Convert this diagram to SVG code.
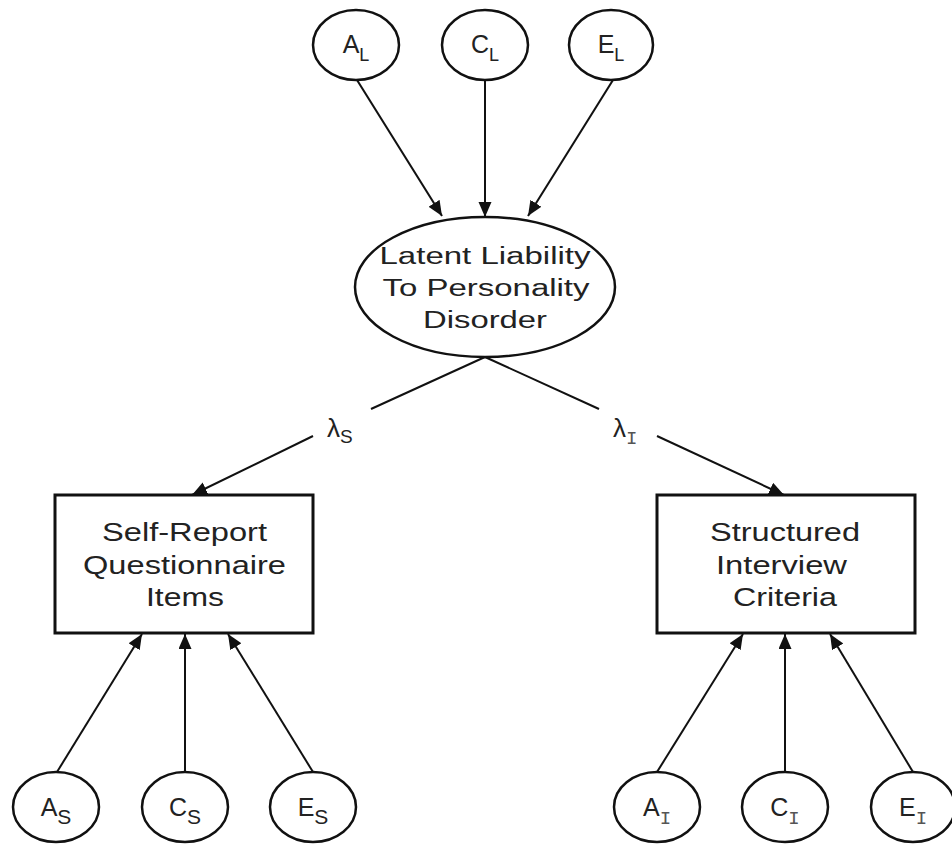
<svg xmlns="http://www.w3.org/2000/svg" width="952" height="844" viewBox="0 0 952 844">
<style>
.node{fill:#fff;stroke:#111;stroke-width:2.5}
.box{fill:#fff;stroke:#111;stroke-width:3}
.t{font-family:"Liberation Sans",Arial,sans-serif;fill:#222}
.big{font-size:23.5px}
.bx{font-size:25px}
.lab{font-size:25px}
.sub{font-size:19px}
.mono{font-family:"Liberation Mono","Courier New",monospace;fill:#555;font-size:19px}
.edge{stroke:#111;stroke-width:2;fill:none}
</style>
<defs>
<marker id="arr" markerUnits="userSpaceOnUse" markerWidth="16" markerHeight="14" refX="15" refY="6.5" orient="auto">
<path d="M0,0 L15,6.5 L0,13 z" fill="#111"/>
</marker>
</defs>
<rect width="952" height="844" fill="#fff"/>
<g id="connectors">
<line class="edge" x1="357" y1="80" x2="442" y2="216" marker-end="url(#arr)"/>
<line class="edge" x1="485" y1="80" x2="485" y2="217" marker-end="url(#arr)"/>
<line class="edge" x1="613" y1="80" x2="528" y2="216" marker-end="url(#arr)"/>
<line class="edge" x1="485" y1="357" x2="371" y2="409"/>
<line class="edge" x1="313" y1="436" x2="192" y2="495" marker-end="url(#arr)"/>
<line class="edge" x1="485" y1="357" x2="599" y2="409"/>
<line class="edge" x1="657" y1="436" x2="784" y2="495" marker-end="url(#arr)"/>
<line class="edge" x1="57" y1="772" x2="142" y2="634" marker-end="url(#arr)"/>
<line class="edge" x1="185" y1="772" x2="185" y2="634" marker-end="url(#arr)"/>
<line class="edge" x1="313" y1="772" x2="228" y2="634" marker-end="url(#arr)"/>
<line class="edge" x1="657" y1="772" x2="743" y2="634" marker-end="url(#arr)"/>
<line class="edge" x1="785" y1="772" x2="785" y2="634" marker-end="url(#arr)"/>
<line class="edge" x1="913" y1="772" x2="830" y2="634" marker-end="url(#arr)"/>
<text class="t" x="327" y="437" font-size="26">λ<tspan class="sub" dy="6">S</tspan></text>
<text class="t" x="613" y="437" font-size="26">λ<tspan class="mono" font-size="17" dy="7">I</tspan></text>
</g>
<g id="AL"><ellipse class="node" cx="356" cy="45" rx="43" ry="35"/><text class="t lab" x="356" y="53" text-anchor="middle">A<tspan font-size="18" dy="8">L</tspan></text></g>
<g id="CL"><ellipse class="node" cx="485" cy="45" rx="43" ry="35"/><text class="t lab" x="485" y="53" text-anchor="middle">C<tspan font-size="18" dy="8">L</tspan></text></g>
<g id="EL"><ellipse class="node" cx="611" cy="45" rx="42" ry="35"/><text class="t lab" x="611" y="53" text-anchor="middle">E<tspan font-size="18" dy="8">L</tspan></text></g>
<g id="latent">
<ellipse class="node" cx="485" cy="287" rx="130" ry="70"/>
<text class="t big" x="485" y="264" text-anchor="middle" textLength="211" lengthAdjust="spacingAndGlyphs">Latent Liability</text>
<text class="t big" x="486" y="296" text-anchor="middle" textLength="207" lengthAdjust="spacingAndGlyphs">To Personality</text>
<text class="t big" x="485" y="328" text-anchor="middle" textLength="124" lengthAdjust="spacingAndGlyphs">Disorder</text>
</g>
<g id="selfreport">
<rect class="box" x="55" y="495" width="258" height="138"/>
<text class="t bx" x="184.5" y="541" text-anchor="middle" textLength="165" lengthAdjust="spacingAndGlyphs">Self-Report</text>
<text class="t bx" x="184.5" y="574" text-anchor="middle" textLength="203" lengthAdjust="spacingAndGlyphs">Questionnaire</text>
<text class="t bx" x="185" y="606" text-anchor="middle" textLength="78" lengthAdjust="spacingAndGlyphs">Items</text>
</g>
<g id="interview">
<rect class="box" x="657" y="495" width="258" height="138"/>
<text class="t bx" x="785" y="541" text-anchor="middle" textLength="150" lengthAdjust="spacingAndGlyphs">Structured</text>
<text class="t bx" x="781.5" y="574" text-anchor="middle" textLength="131" lengthAdjust="spacingAndGlyphs">Interview</text>
<text class="t bx" x="785" y="606" text-anchor="middle" textLength="104" lengthAdjust="spacingAndGlyphs">Criteria</text>
</g>
<g id="AS"><ellipse class="node" cx="56" cy="807" rx="43" ry="35"/><text class="t lab" x="56" y="816" text-anchor="middle">A<tspan font-size="21" dy="8">S</tspan></text></g>
<g id="CS"><ellipse class="node" cx="185" cy="807" rx="43" ry="35"/><text class="t lab" x="185" y="816" text-anchor="middle">C<tspan font-size="21" dy="8">S</tspan></text></g>
<g id="ES"><ellipse class="node" cx="313" cy="807" rx="43" ry="35"/><text class="t lab" x="313" y="816" text-anchor="middle">E<tspan font-size="21" dy="8">S</tspan></text></g>
<g id="AI"><ellipse class="node" cx="657" cy="807" rx="43" ry="35"/><text class="t lab" x="657" y="816" text-anchor="middle">A<tspan class="mono" dy="8">I</tspan></text></g>
<g id="CI"><ellipse class="node" cx="785" cy="807" rx="43" ry="35"/><text class="t lab" x="785" y="816" text-anchor="middle">C<tspan class="mono" dy="8">I</tspan></text></g>
<g id="EI"><ellipse class="node" cx="913" cy="807" rx="42" ry="35"/><text class="t lab" x="913" y="816" text-anchor="middle">E<tspan class="mono" dy="8">I</tspan></text></g>
</svg>
